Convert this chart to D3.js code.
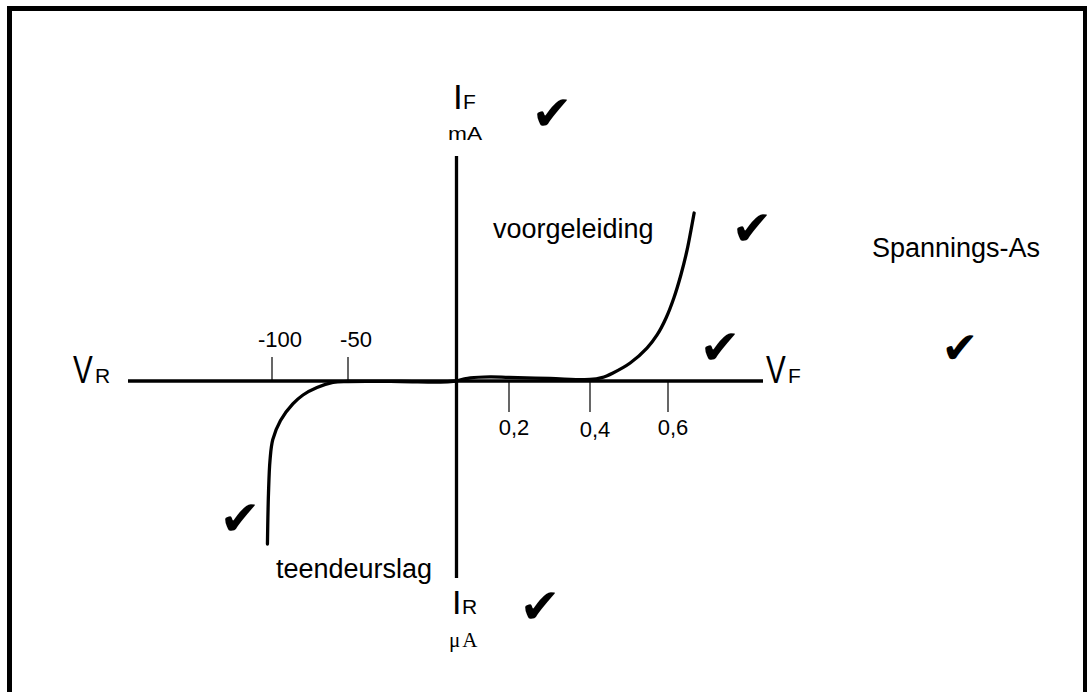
<!DOCTYPE html>
<html>
<head>
<meta charset="utf-8">
<script src="https://cdn.jsdelivr.net/npm/d3@7"></script>
<style>
  body { margin: 0; background: #fff; }
  text { font-family: 'Liberation Sans', Arial, sans-serif; fill: #000; }
</style>
</head>
<body>
<svg id="diode-chart"></svg>
<script>
// voltage ticks (V) and their labels
const tickValues = [-100, -50, 0.2, 0.4, 0.6];
const tickLabels = ['-100', '-50', '0,2', '0,4', '0,6'];

// forward branch: V in volt, I in mA
const forwardV = [0, 0.053, 0.128, 0.2, 0.301, 0.4, 0.43, 0.459, 0.503, 0.546, 0.572, 0.595, 0.615, 0.633, 0.649, 0.659, 0.667];
const forwardI = [0, 0.18, 0.24, 0.21, 0.15, 0.09, 0.2, 0.48, 1.07, 1.96, 2.74, 3.75, 4.94, 6.31, 7.8, 8.99, 10.0];

// reverse branch: V in volt, I in uA
const reverseV = [0, -7.4, -25.9, -50, -59.9, -70.4, -79.6, -86.3, -94.4, -99.5, -101.3, -102.3, -103];
const reverseI = [0, -0.06, -0.03, -0.03, -0.09, -0.4, -0.86, -1.41, -2.42, -3.6, -4.85, -6.87, -10];

const notes = ['voorgeleiding', 'teendeurslag', 'Spannings-As'];
const checkMark = '\u2714';

const drawChart = () => {
  const width = 1087;
  const height = 692;

  const svg = d3.select('#diode-chart');
  svg.attr('width', width).attr('height', height);

  // frame (bottom edge runs off the page)
  svg
    .append('rect')
    .attr('x', 9.5)
    .attr('y', 8.5)
    .attr('width', 1076)
    .attr('height', 720)
    .attr('fill', 'none')
    .attr('stroke', '#000')
    .attr('stroke-width', 5);

  // hand drawn axes are not evenly spaced, so piecewise scales
  const xScale = d3
    .scaleLinear()
    .domain([-100, -50, 0, 0.2, 0.4, 0.6])
    .range([272, 348, 456.5, 509, 590, 668]);
  const yScale = d3
    .scaleLinear()
    .domain([-10, 0, 10])
    .range([544, 381, 213]);

  const x0 = xScale(0);
  const y0 = yScale(0);

  // axes
  svg
    .append('line')
    .attr('x1', 128)
    .attr('x2', 763)
    .attr('y1', y0)
    .attr('y2', y0)
    .attr('stroke', '#000')
    .attr('stroke-width', 3.3);
  svg
    .append('line')
    .attr('x1', x0)
    .attr('x2', x0)
    .attr('y1', 156)
    .attr('y2', 578)
    .attr('stroke', '#000')
    .attr('stroke-width', 3.3);

  // ticks: negative side up, positive side down
  const ticks = svg.append('g').attr('id', 'ticks');
  ticks
    .selectAll('line')
    .data(tickValues)
    .enter()
    .append('line')
    .attr('x1', d => xScale(d))
    .attr('x2', d => xScale(d))
    .attr('y1', y0)
    .attr('y2', d => (d < 0 ? y0 - 24 : y0 + 31))
    .attr('stroke', '#000')
    .attr('stroke-width', 1.2);
  ticks
    .selectAll('text')
    .data(tickValues)
    .enter()
    .append('text')
    .attr('x', d => xScale(d) + (d < 0 ? 8 : 5))
    .attr('y', (d, i) => (d < 0 ? y0 - 34 : y0 + (i === 3 ? 56 : 54)))
    .attr('text-anchor', 'middle')
    .style('font-size', '22px')
    .text((d, i) => tickLabels[i]);

  // characteristic
  const line = d3
    .line()
    .x(d => xScale(d[0]))
    .y(d => yScale(d[1]))
    .curve(d3.curveCatmullRom.alpha(0.5));
  const branches = [
    d3.zip(forwardV, forwardI),
    d3.zip(reverseV, reverseI)
  ];
  svg
    .selectAll('.branch')
    .data(branches)
    .enter()
    .append('path')
    .attr('class', 'branch')
    .attr('d', line)
    .attr('fill', 'none')
    .attr('stroke', '#000')
    .attr('stroke-width', 3.3)
    .attr('stroke-linecap', 'round');

  // axis names: big letter (narrowed) + small index right after it
  const axisName = (x, y, big, small, bigSize, squeeze, gap) => {
    svg
      .append('text')
      .attr('transform', 'translate(' + x + ',' + y + ') scale(' + squeeze + ',1)')
      .style('font-size', bigSize + 'px')
      .text(big);
    svg
      .append('text')
      .attr('x', x + gap)
      .attr('y', y)
      .style('font-size', '21px')
      .text(small);
  };
  axisName(73, 383, 'V', 'R', 39, 0.76, 22);
  axisName(766, 383, 'V', 'F', 39, 0.76, 22);
  axisName(453, 109, 'I', 'F', 35, 1, 10);
  axisName(452, 614, 'I', 'R', 34, 1, 10);

  svg
    .append('text')
    .attr('x', 448)
    .attr('y', 140)
    .attr('textLength', 34)
    .attr('lengthAdjust', 'spacingAndGlyphs')
    .style('font-size', '19px')
    .text('mA');
  svg
    .append('text')
    .attr('x', 449)
    .attr('y', 647)
    .attr('letter-spacing', 2)
    .style('font-family', "'Liberation Serif', 'Times New Roman', serif")
    .style('font-size', '21px')
    .text('\u03bcA');

  // notes
  const noteAt = [[493, 238], [276, 578], [872, 257]];
  svg
    .selectAll('.note')
    .data(notes)
    .enter()
    .append('text')
    .attr('class', 'note')
    .attr('x', (d, i) => noteAt[i][0])
    .attr('y', (d, i) => noteAt[i][1])
    .style('font-size', '27px')
    .text(d => d);

  // check marks
  const checks = [[552, 113], [752, 228], [720, 347], [960, 347], [240, 518], [540, 606]];
  svg
    .selectAll('.check')
    .data(checks)
    .enter()
    .append('text')
    .attr('class', 'check')
    .attr('x', d => d[0])
    .attr('y', d => d[1])
    .attr('text-anchor', 'middle')
    .attr('dominant-baseline', 'central')
    .style('font-family', "'DejaVu Sans', sans-serif")
    .style('font-size', (d, i) => (i === 3 ? '44px' : '49px'))
    .text(checkMark);
};

drawChart();
</script>
</body>
</html>
